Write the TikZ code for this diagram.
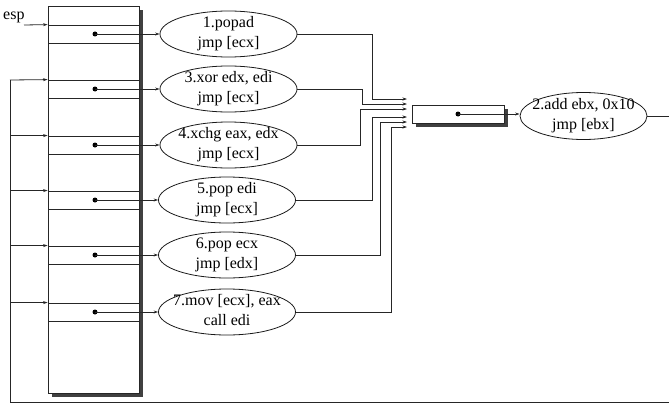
\documentclass[tikz,border=0pt]{standalone}
\usepackage{fontspec}
\setmainfont{Liberation Serif}
\usetikzlibrary{arrows.meta,shapes.geometric}
\newcommand{\optext}[2]{\raisebox{-4pt}[0pt][0pt]{\makebox[0pt]{\begin{tabular}{@{}c@{}}#1\\#2\end{tabular}}}}
\tikzset{
  ln/.style={draw=black!85, line width=0.8pt},
  arr/.style={ln, -{Stealth[length=4.5pt,width=3pt]}},
  slot/.style={draw=black!85, line width=0.8pt, rectangle, minimum width=91pt, minimum height=18pt, inner sep=0pt},
  op/.style={draw=black!90, line width=0.8pt, ellipse, minimum width=137pt, minimum height=46pt, inner sep=0pt, font=\fontsize{16}{20}\selectfont},
  dotn/.style={circle, fill=black, inner sep=0pt, minimum size=5pt},
  shade/.style={fill=black!75, draw=none},
}
\begin{document}
\begin{tikzpicture}[x=1pt,y=-1pt]
\useasboundingbox (0,0) rectangle (669,404);
% stack
\fill[shade] (52,10) rectangle (143,397);
\node[draw=black!85, line width=0.8pt, fill=white, rectangle, minimum width=91pt, minimum height=387pt, inner sep=0pt] (stack) at (93.5,199.5) {};
\node[slot] (s1) at (93.5,34) {};
\node[slot] (s2) at (93.5,89) {};
\node[slot] (s3) at (93.5,145) {};
\node[slot] (s4) at (93.5,200) {};
\node[slot] (s5) at (93.5,255) {};
\node[slot] (s6) at (93.5,312) {};
\node[dotn] (d1) at (95,34) {};
\node[dotn] (d2) at (95,89) {};
\node[dotn] (d3) at (95,145) {};
\node[dotn] (d4) at (95,200) {};
\node[dotn] (d5) at (95,255) {};
\node[dotn] (d6) at (95,312) {};
% esp
\node[font=\fontsize{16}{18}\selectfont, anchor=west, inner sep=0pt] (esp) at (3,17) {esp};
\coordinate (espa) at (24,25);
\draw[arr] (espa) -- (s1.north west);
% gadgets
\node[op] (e1) at (228.5,34) {\optext{1.popad}{jmp [ecx]}};
\node[op] (e3) at (228.5,89) {\optext{3.xor edx, edi}{jmp [ecx]}};
\node[op] (e4) at (228.5,145) {\optext{4.xchg eax, edx}{jmp [ecx]}};
\node[op] (e5) at (227,200) {\optext{5.pop edi}{jmp [ecx]}};
\node[op] (e6) at (227,255) {\optext{6.pop ecx}{jmp [edx]}};
\node[op] (e7) at (227,312) {\optext{7.mov [ecx], eax}{call edi}};
\foreach \a/\b in {d1/e1,d2/e3,d3/e4,d4/e5,d5/e6,d6/e7}
  \draw[arr] (\a.center) -- (\a.center -| \b.west);
% small box
\fill[shade] (416,109) rectangle (508,127);
\node[slot, fill=white, minimum width=92pt] (bx) at (458,114) {};
\node[dotn] (bd) at (458,114) {};
\node[op, minimum width=127pt, minimum height=47pt] (e2) at (583.5,116) {\optext{2.add ebx, 0x10}{jmp [ebx]}};
\draw[arr] (bd.center) -- (bd.center -| e2.west);
% merge points
\coordinate (m1) at (407,99);
\coordinate (m2) at (407,104);
\coordinate (m3) at (407,109);
\coordinate (m4) at (407,117);
\coordinate (m5) at (407,122);
\coordinate (m6) at (407,127);
\coordinate (k1) at (372,0);
\coordinate (k3) at (362,0);
\coordinate (k4) at (360,0);
\coordinate (k5) at (372,0);
\coordinate (k6) at (380,0);
\coordinate (k7) at (391,0);
\draw[arr] (e1.east) -- (k1 |- e1.east) -- (k1 |- m1) -- (m1);
\draw[arr] (e3.east) -- (k3 |- e3.east) -- (k3 |- m2) -- (m2);
\draw[arr] (e4.east) -- (k4 |- e4.east) -- (k4 |- m3) -- (m3);
\draw[arr] (e5.east) -- (k5 |- e5.east) -- (k5 |- m4) -- (m4);
\draw[arr] (e6.east) -- (k6 |- e6.east) -- (k6 |- m5) -- (m5);
\draw[arr] (e7.east) -- (k7 |- e7.east) -- (k7 |- m6) -- (m6);
% loop back
\coordinate (out) at (669,116);
\draw[ln] (e2.east) -- (out);
\coordinate (br) at (669,402);
\coordinate (bl) at (10,402);
\coordinate (tl) at (10,80);
\draw[ln] (br) -- (bl) -- (tl);
\draw[arr] (tl) -- (s2.north west);
\foreach \s in {s3,s4,s5,s6}
  \draw[arr] (bl |- \s.north west) -- (\s.north west);
\end{tikzpicture}
\end{document}
